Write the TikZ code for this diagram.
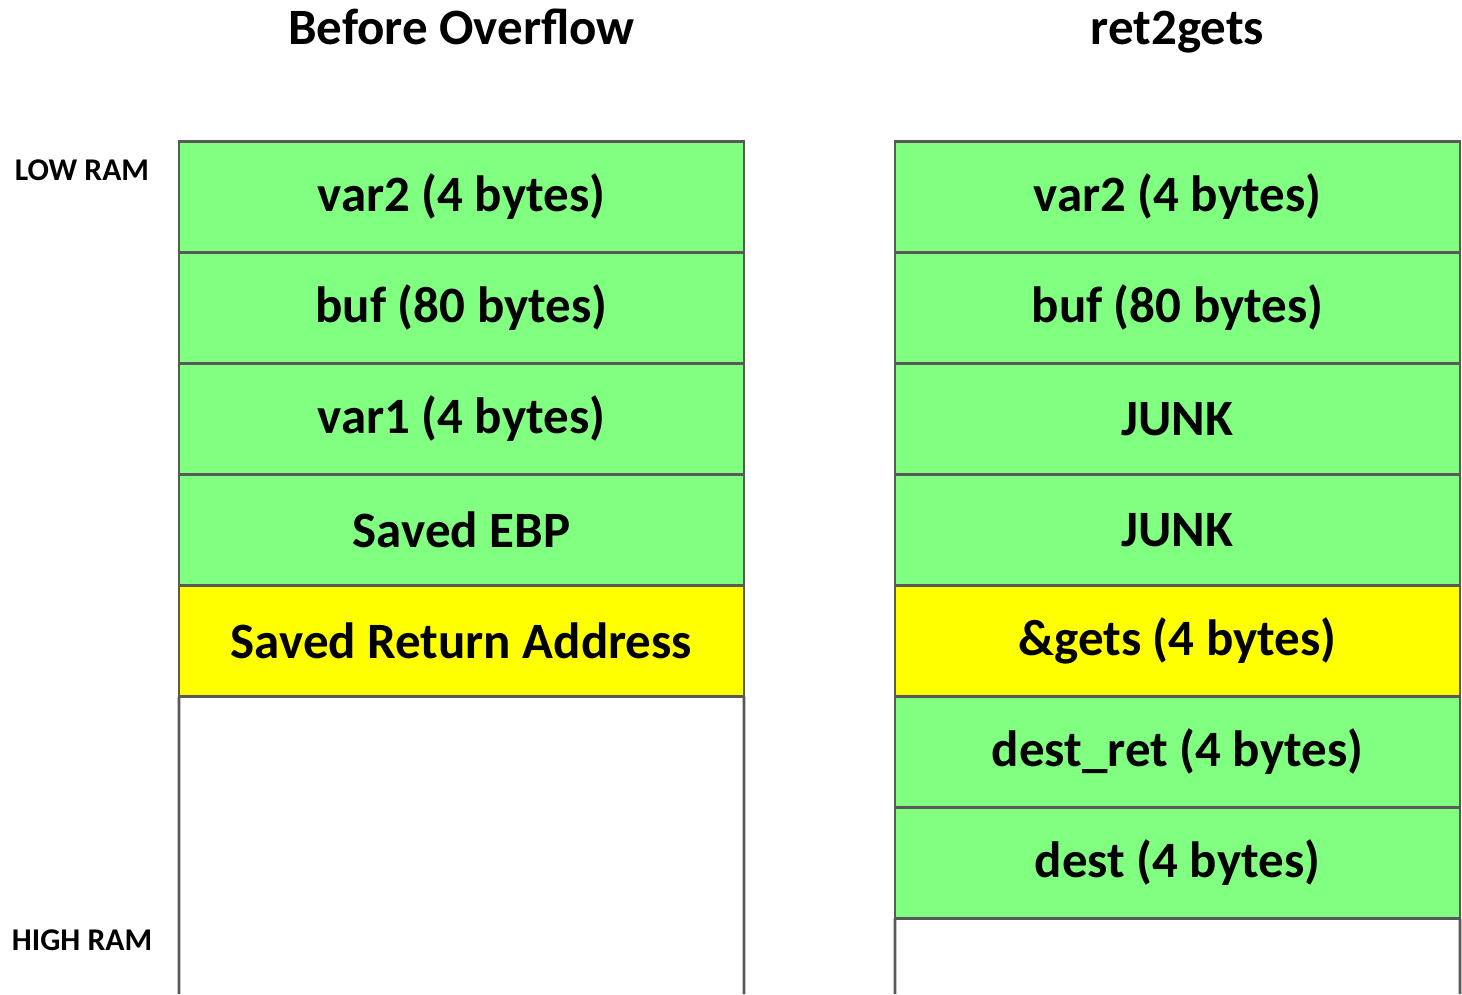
\documentclass[tikz,border=0pt]{standalone}
\usepackage{fontspec}
\setmainfont{Carlito}
\definecolor{stackgreen}{HTML}{80FF80}
\definecolor{stackyellow}{HTML}{FFFF00}
\begin{document}
\begin{tikzpicture}
      [%%%%%%%%%%%%%%%%%%%%%%%%%%%%%%
      slot/.style={rectangle,draw=black!65,line width=1.5pt,minimum width=11.3cm,minimum height=2.22cm,inner sep=0pt,outer sep=0pt,font=\fontsize{29}{34}\selectfont\bfseries},
      title/.style={anchor=base,font=\fontsize{29}{34}\selectfont\bfseries},
      ramlabel/.style={font=\fontsize{18}{21}\selectfont\bfseries},
      side/.style={draw=black!65,line width=1.5pt},
      ]%%%%%%%%%%%%%%%%%%%%%%%%%%%%%%
      \useasboundingbox (0,0) rectangle (29.24,-19.88);

      \node[title] (tleft) at (9.23,-0.88){Before Overflow};
      \node[title] (tright) at (23.55,-0.88){ret2gets};

      \node[ramlabel] (low) at (1.64,-3.4){LOW RAM};
      \node[ramlabel] (high) at (1.64,-18.8){HIGH RAM};

      % before overflow
      \node[slot,fill=stackgreen ] (la) at (9.23,-3.94){var2 (4 bytes)};
      \node[slot,fill=stackgreen ] (lb) at (9.23,-6.16){buf (80 bytes)};
      \node[slot,fill=stackgreen ] (lc) at (9.23,-8.38){var1 (4 bytes)};
      \node[slot,fill=stackgreen ] (ld) at (9.23,-10.6){Saved EBP};
      \node[slot,fill=stackyellow] (le) at (9.23,-12.82){Saved Return Address};
      \coordinate (lbl) at (3.58,-19.88);
      \coordinate (lbr) at (14.88,-19.88);
      \draw[side] (le.south west) -- (lbl);
      \draw[side] (le.south east) -- (lbr);

      % ret2gets
      \node[slot,fill=stackgreen ] (ra) at (23.55,-3.94){var2 (4 bytes)};
      \node[slot,fill=stackgreen ] (rb) at (23.55,-6.16){buf (80 bytes)};
      \node[slot,fill=stackgreen ] (rc) at (23.55,-8.38){JUNK};
      \node[slot,fill=stackgreen ] (rd) at (23.55,-10.6){JUNK};
      \node[slot,fill=stackyellow] (re) at (23.55,-12.82){\&gets (4 bytes)};
      \node[slot,fill=stackgreen ] (rf) at (23.55,-15.04){dest\_ret (4 bytes)};
      \node[slot,fill=stackgreen ] (rg) at (23.55,-17.26){dest (4 bytes)};
      \coordinate (rbl) at (17.9,-19.88);
      \coordinate (rbr) at (29.2,-19.88);
      \draw[side] (rg.south west) -- (rbl);
      \draw[side] (rg.south east) -- (rbr);
    \end{tikzpicture}
\end{document}
